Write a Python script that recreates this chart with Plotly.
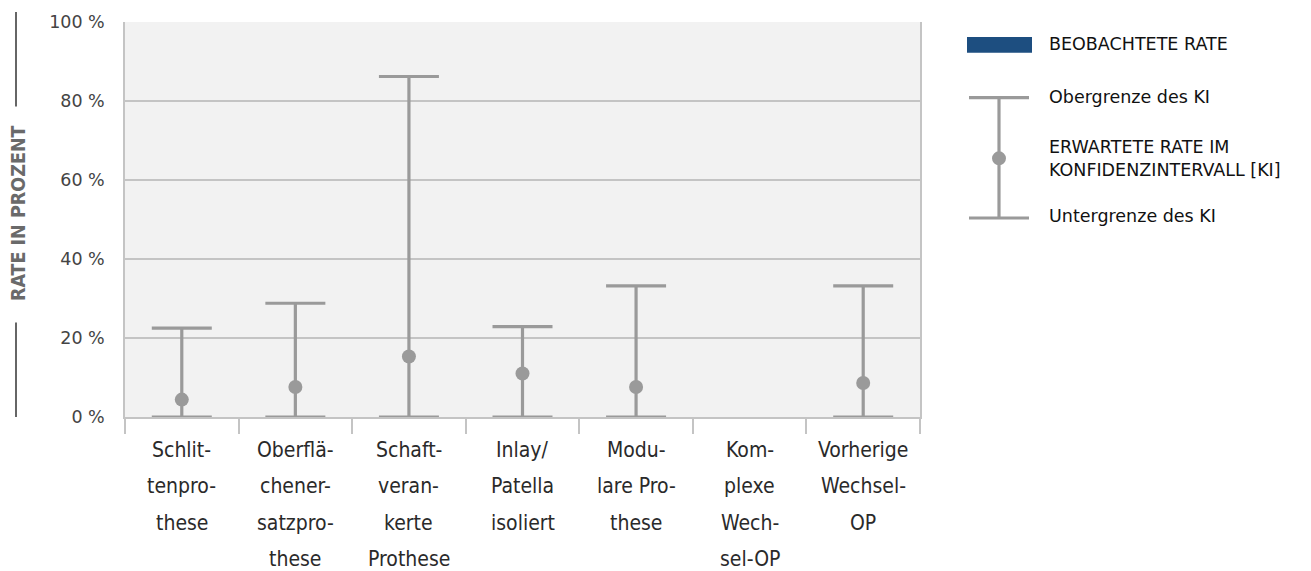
import plotly.graph_objects as go

# Categories (label lines as hyphenated in the print layout)
category_lines = [
    ["Schlit-", "tenpro-", "these"],
    ["Oberflä-", "chener-", "satzpro-", "these"],
    ["Schaft-", "veran-", "kerte", "Prothese"],
    ["Inlay/", "Patella", "isoliert"],
    ["Modu-", "lare Pro-", "these"],
    ["Kom-", "plexe", "Wech-", "sel-OP"],
    ["Vorherige", "Wechsel-", "OP"],
]
categories = ["".join(lines) for lines in category_lines]

observed_rate = [0, 0, 0, 0, 0, 0, 0]
expected_rate = [4.4, 7.6, 15.3, 11.0, 7.6, None, 8.6]
ci_upper = [22.5, 28.8, 86.2, 22.9, 33.2, None, 33.2]
ci_lower = [0, 0, 0, 0, 0, None, 0]

y_ticks = [0, 20, 40, 60, 80, 100]
y_tick_labels = [f"{v} %" for v in y_ticks]

BLUE = "#1d4e80"
GREY = "#9a9a9a"
GRID = "#c4c4c4"

err_plus = [None if (u is None or e is None) else u - e for u, e in zip(ci_upper, expected_rate)]
err_minus = [None if (l is None or e is None) else e - l for l, e in zip(ci_lower, expected_rate)]

fig = go.Figure()

fig.add_trace(go.Bar(
    x=categories, y=observed_rate,
    marker=dict(color=BLUE, line=dict(width=0)),
    width=0.55, showlegend=False, hoverinfo="skip",
))

fig.add_trace(go.Scatter(
    x=categories, y=expected_rate, mode="markers",
    marker=dict(color=GREY, size=14),
    error_y=dict(type="data", symmetric=False, array=err_plus, arrayminus=err_minus,
                 color=GREY, thickness=3.2, width=30),
    showlegend=False,
))

fig.update_layout(
    width=1311, height=571,
    margin=dict(l=125, r=391, t=20, b=154),
    paper_bgcolor="white",
    plot_bgcolor="#f2f2f2",
    font=dict(family="DejaVu Sans", color="#333333"),
    bargap=0.45,
)

fig.update_xaxes(
    type="category", categoryorder="array", categoryarray=categories,
    showticklabels=False,
    tickson="boundaries", ticks="outside", ticklen=15, tickcolor=GRID, tickwidth=1.5,
    showline=True, linecolor=GRID, linewidth=1.5,
    showgrid=False,
)

fig.update_yaxes(
    range=[0, 100], tickmode="array", tickvals=y_ticks, ticktext=y_tick_labels,
    tickfont=dict(size=17.5, color="#444444", family="DejaVu Sans"),
    showgrid=True, gridcolor=GRID, gridwidth=1.5,
    showline=True, mirror=True, linecolor=GRID, linewidth=1.5,
    zeroline=False, ticks="", ticklabelstandoff=15,
)

annotations = []
shapes = []

# Category labels, one annotation per line for wide line spacing
for cat, lines in zip(categories, category_lines):
    for i, line in enumerate(lines):
        annotations.append(dict(
            x=cat, xref="x", y=0, yref="paper",
            text=line, showarrow=False,
            xanchor="center", yanchor="middle",
            yshift=-33 - i * 36.3,
            font=dict(family="DejaVu Sans Condensed", size=21, color="#2a2a2a"),
        ))


def px_x(px):
    return (px - 125) / 795


def px_y(py):
    return (417 - py) / 397


# Vertical axis title with rules above and below
annotations.append(dict(
    x=px_x(18), xref="paper", y=px_y(212), yref="paper",
    text="<b>RATE IN PROZENT</b>", textangle=-90, showarrow=False,
    xanchor="center", yanchor="middle",
    font=dict(family="DejaVu Sans Condensed", size=19.5, color="#6a6a6a"),
))

for y0, y1 in [(10, 105), (322, 417)]:
    shapes.append(dict(type="line", xref="paper", yref="paper",
                       x0=px_x(16), x1=px_x(16), y0=px_y(y0), y1=px_y(y1),
                       line=dict(color="#666666", width=2)))

# Legend drawn beside the plot
shapes.append(dict(type="rect", xref="paper", yref="paper",
                   x0=px_x(967), x1=px_x(1032), y0=px_y(35), y1=px_y(51),
                   fillcolor=BLUE, line=dict(width=0)))
shapes.append(dict(type="line", xref="paper", yref="paper",
                   x0=px_x(999), x1=px_x(999), y0=px_y(96), y1=px_y(217),
                   line=dict(color=GREY, width=3.2)))
for cy in (96, 217):
    shapes.append(dict(type="line", xref="paper", yref="paper",
                       x0=px_x(969), x1=px_x(1029), y0=px_y(cy), y1=px_y(cy),
                       line=dict(color=GREY, width=3.2)))
shapes.append(dict(type="circle", xref="paper", yref="paper",
                   x0=px_x(992), x1=px_x(1006), y0=px_y(150), y1=px_y(164),
                   fillcolor=GREY, line=dict(width=0)))

legend_texts = [
    ("BEOBACHTETE RATE", 42),
    ("Obergrenze des KI", 95),
    ("ERWARTETE RATE IM<br>KONFIDENZINTERVALL [KI]", 157),
    ("Untergrenze des KI", 215),
]
for text, cy in legend_texts:
    annotations.append(dict(
        x=px_x(1047), xref="paper", y=px_y(cy), yref="paper",
        text=text, showarrow=False, xanchor="left", yanchor="middle", align="left",
        font=dict(family="DejaVu Sans", size=17.5, color="#111111"),
    ))

fig.update_layout(annotations=annotations, shapes=shapes)

fig.write_html("out.html")
